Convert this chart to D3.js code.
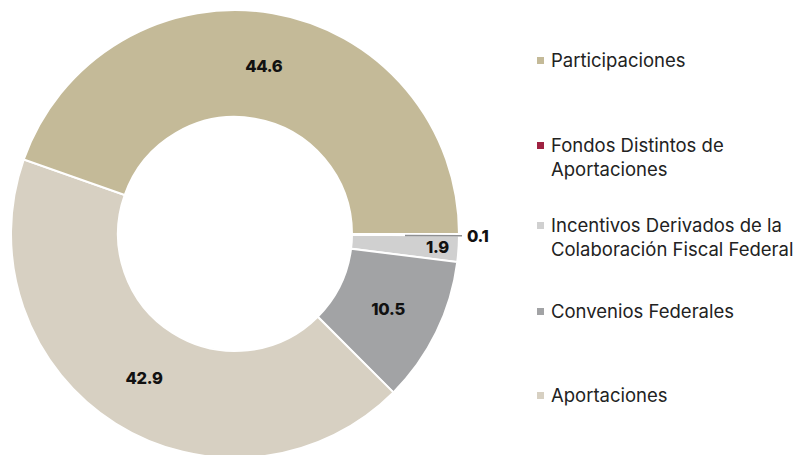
<!DOCTYPE html>
<html>
<head>
<meta charset="utf-8">
<script src="https://cdn.jsdelivr.net/npm/d3@7"></script>
<style>
  body { margin: 0; background: #fff; }
  svg { display: block; font-family: Inter, "Noto Sans", sans-serif; }
  .lbl { font-weight: 800; font-size: 16.5px; fill: #111; letter-spacing: -0.3px; }
  .leg { font-size: 18.5px; fill: #222; }
</style>
</head>
<body>
<div id="chart"></div>
<script>
// order clockwise from 3 o'clock
var categories = ['Fondos Distintos de Aportaciones', 'Incentivos Derivados de la Colaboración Fiscal Federal',
    'Convenios Federales', 'Aportaciones', 'Participaciones'];
var values = [0.1, 1.9, 10.5, 42.9, 44.6];
var colors = ['#9f2241', '#d0d0d0', '#a2a3a5', '#d7d0c2', '#c4ba98'];

// legend order top to bottom, with line breaks
var legendItems = ['Participaciones', 'Fondos Distintos de Aportaciones', 'Incentivos Derivados de la Colaboración Fiscal Federal',
    'Convenios Federales', 'Aportaciones'];
var legendLines = [
    ['Participaciones'],
    ['Fondos Distintos de', 'Aportaciones'],
    ['Incentivos Derivados de la', 'Colaboración Fiscal Federal'],
    ['Convenios Federales'],
    ['Aportaciones']
];

var width = 801, height = 455;
var cx = 235, cy = 234;
var outerR = 224, innerR = 117;

var svg = d3.select('#chart').append('svg')
    .attr('width', width)
    .attr('height', height);

var color = d3.scaleOrdinal().domain(categories).range(colors);

var pie = d3.pie()
    .sort(null)
    .value(function(d) { return d; })
    .startAngle(Math.PI / 2)
    .endAngle(Math.PI / 2 + 2 * Math.PI);

var arc = d3.arc().innerRadius(innerR).outerRadius(outerR);
var arcs = pie(values);

var g = svg.append('g').attr('transform', 'translate(' + cx + ',' + cy + ')');

g.selectAll('path')
    .data(arcs)
    .enter().append('path')
    .attr('d', arc)
    .attr('fill', function(d, i) { return color(categories[i]); })
    .attr('stroke', '#fff')
    .attr('stroke-width', 2);

// labels
var outerLabelArc = d3.arc().innerRadius(203).outerRadius(203);

g.selectAll('text.lbl')
    .data(arcs)
    .enter().append('text')
    .attr('class', 'lbl')
    .attr('dy', '0.35em')
    .attr('transform', function(d, i) {
        if (i == 0) {
            var a = (d.startAngle + d.endAngle) / 2;
            return 'translate(' + (outerR + 8) + ',' + (-Math.cos(a) * outerR + 2) + ')';
        }
        var c = i == 1 ? outerLabelArc.centroid(d) : arc.centroid(d);
        return 'translate(' + c + ')';
    })
    .attr('text-anchor', function(d, i) { return i == 0 ? 'start' : 'middle'; })
    .text(function(d) { return d3.format('.1f')(d.value); });

// leader line for the tiny slice
var tiny = arcs[0];
var ta = (tiny.startAngle + tiny.endAngle) / 2;
g.append('line')
    .attr('x1', Math.sin(ta) * 170)
    .attr('y1', -Math.cos(ta) * 170 + 1)
    .attr('x2', Math.sin(ta) * (outerR + 3))
    .attr('y2', -Math.cos(ta) * (outerR + 3) + 1)
    .attr('stroke', '#8f9092')
    .attr('stroke-width', 1.5);

// legend
var legendY = [61, 146, 226, 312, 396];
var legend = svg.append('g').attr('transform', 'translate(537,0)');

var items = legend.selectAll('g')
    .data(legendItems)
    .enter().append('g')
    .attr('transform', function(d, i) { return 'translate(0,' + legendY[i] + ')'; });

items.append('rect')
    .attr('x', 0)
    .attr('y', -4)
    .attr('width', 7)
    .attr('height', 7)
    .attr('fill', function(d) { return color(d); });

items.each(function(d, i) {
    d3.select(this).selectAll('text')
        .data(legendLines[i])
        .enter().append('text')
        .attr('class', 'leg')
        .attr('x', 14)
        .attr('y', function(t, j) { return j * 24; })
        .attr('dy', '0.35em')
        .text(function(t) { return t; });
});
</script>
</body>
</html>
